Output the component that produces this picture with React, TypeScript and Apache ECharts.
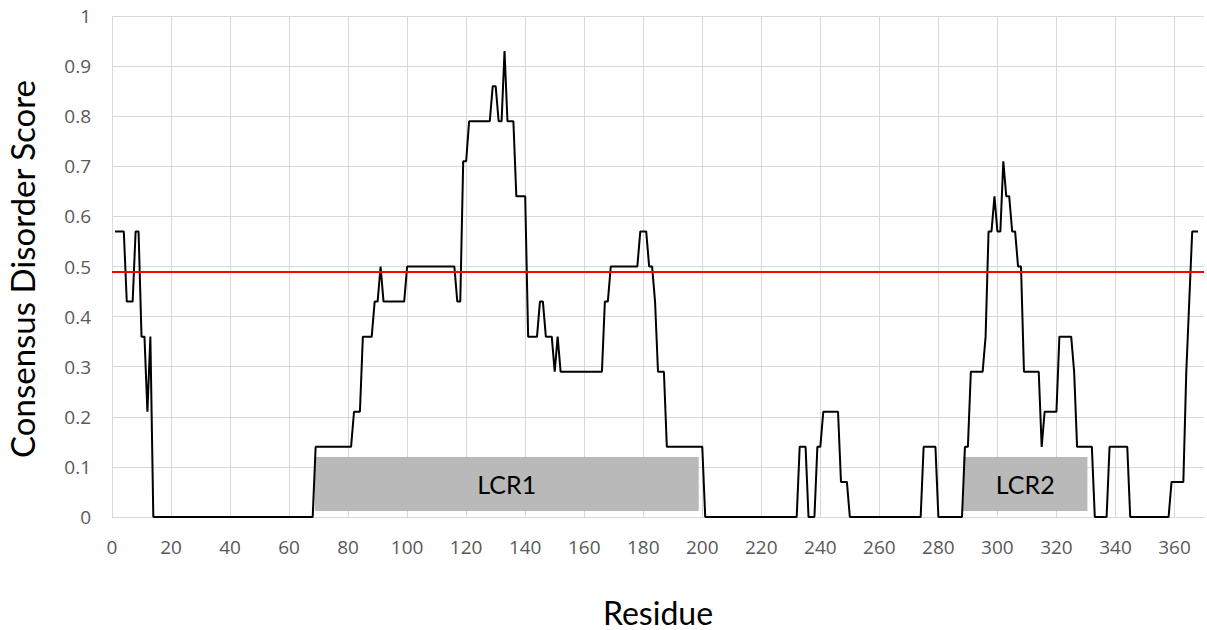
import React, { useEffect, useRef } from "react";
import * as echarts from "echarts";

// Breakpoints of the consensus disorder profile (residue, score)
const residues = [
  1, 4, 5, 7, 8, 9, 10, 11, 12, 13, 14, 68, 69, 81, 82, 84, 85, 88, 89, 90,
  91, 92, 99, 100, 116, 117, 118, 119, 120, 121, 128, 129, 130, 131, 132, 133, 134, 136, 137, 140,
  141, 144, 145, 146, 147, 149, 150, 151, 152, 166, 167, 168, 169, 178, 179, 181, 182, 183, 184, 185,
  187, 188, 200, 201, 232, 233, 235, 236, 238, 239, 240, 241, 246, 247, 249, 250, 274, 275, 279, 280,
  288, 289, 290, 291, 295, 296, 297, 298, 299, 300, 301, 302, 303, 304, 305, 306, 307, 308, 309, 314,
  315, 316, 320, 321, 325, 326, 327, 332, 333, 337, 338, 344, 345, 358, 359, 363, 364, 365, 366, 368,
];
const scores = [
  0.57, 0.57, 0.43, 0.43, 0.57, 0.57, 0.36, 0.36, 0.21, 0.36, 0, 0, 0.14, 0.14, 0.21, 0.21, 0.36, 0.36, 0.43, 0.43,
  0.5, 0.43, 0.43, 0.5, 0.5, 0.43, 0.43, 0.71, 0.71, 0.79, 0.79, 0.86, 0.86, 0.79, 0.79, 0.93, 0.79, 0.79, 0.64, 0.64,
  0.36, 0.36, 0.43, 0.43, 0.36, 0.36, 0.29, 0.36, 0.29, 0.29, 0.43, 0.43, 0.5, 0.5, 0.57, 0.57, 0.5, 0.5, 0.43, 0.29,
  0.29, 0.14, 0.14, 0, 0, 0.14, 0.14, 0, 0, 0.14, 0.14, 0.21, 0.21, 0.07, 0.07, 0, 0, 0.14, 0.14, 0,
  0, 0.14, 0.14, 0.29, 0.29, 0.36, 0.57, 0.57, 0.64, 0.57, 0.57, 0.71, 0.64, 0.64, 0.57, 0.57, 0.5, 0.5, 0.29, 0.29,
  0.14, 0.21, 0.21, 0.36, 0.36, 0.29, 0.14, 0.14, 0, 0, 0.14, 0.14, 0, 0, 0.07, 0.07, 0.29, 0.43, 0.57, 0.57,
];

const threshold = 0.495;

// Low complexity regions
const lcrNames = ["LCR1", "LCR2"];
const lcrStart = [68.7, 288.4];
const lcrEnd = [198.8, 330.5];
const lcrBottom = 0.012;
const lcrTop = 0.12;

const xMin = 0;
const xMax = 370;
const xStep = 20;
const xLastLabel = 360;
const yMin = 0;
const yMax = 1;
const yStep = 0.1;

const xTitle = "Residue";
const yTitle = "Consensus Disorder Score";

export default function App() {
  const ref = useRef<HTMLDivElement>(null);

  useEffect(() => {
    if (!ref.current) return;
    const chart = echarts.init(ref.current, null, { renderer: "svg" });
    const lineData = residues.map((r, i) => [r, scores[i]]);
    const areas = lcrNames.map((n, i) => [
      { name: n, xAxis: lcrStart[i], yAxis: lcrBottom },
      { xAxis: lcrEnd[i], yAxis: lcrTop },
    ]);
    const tickFont = { fontFamily: "Open Sans", fontSize: 19, color: "#595959" };
    chart.setOption({
      animation: false,
      backgroundColor: "#ffffff",
      grid: { left: 112, right: 0, top: 16, bottom: 113, containLabel: false },
      xAxis: {
        type: "value",
        min: xMin,
        max: xMax,
        interval: xStep,
        axisLine: { show: true, lineStyle: { color: "#d9d9d9", width: 1 } },
        axisTick: { show: false },
        axisLabel: {
          ...tickFont,
          margin: 20,
          formatter: (v: number) => (v % xStep === 0 && v <= xLastLabel ? String(v) : ""),
        },
        splitLine: { show: true, showMaxLine: false, lineStyle: { color: "#d9d9d9", width: 1 } },
      },
      yAxis: {
        type: "value",
        min: yMin,
        max: yMax,
        interval: yStep,
        axisLine: { show: false },
        axisTick: { show: false },
        axisLabel: {
          ...tickFont,
          margin: 21,
          formatter: (v: number) => String(Math.round(v * 10) / 10),
        },
        splitLine: { show: true, lineStyle: { color: "#d9d9d9", width: 1 } },
      },
      graphic: [
        {
          type: "text",
          x: 658,
          y: 612,
          style: {
            text: xTitle,
            fontFamily: "Lato",
            fontSize: 32,
            fill: "#000000",
            textAlign: "center",
            textVerticalAlign: "middle",
          },
        },
        {
          type: "text",
          x: 22,
          y: 269,
          rotation: Math.PI / 2,
          style: {
            text: yTitle,
            fontFamily: "Lato",
            fontSize: 33,
            fill: "#000000",
            textAlign: "center",
            textVerticalAlign: "middle",
          },
        },
      ],
      series: [
        {
          type: "line",
          data: lineData,
          showSymbol: false,
          symbol: "none",
          lineStyle: { color: "#000000", width: 2 },
          z: 3,
          markArea: {
            silent: true,
            itemStyle: { color: "#b9b9b9" },
            label: {
              show: true,
              position: "inside",
              fontFamily: "Lato",
              fontSize: 25,
              color: "#000000",
            },
            data: areas,
          },
          markLine: {
            silent: true,
            symbol: ["none", "none"],
            label: { show: false },
            lineStyle: { color: "#ff0000", width: 2, type: "solid" },
            data: [{ yAxis: threshold }],
          },
        },
      ],
    });
    return () => chart.dispose();
  }, []);

  return (
    <div
      ref={ref}
      style={{ position: "fixed", left: 0, top: 0, width: 1207, height: 630, background: "#fff" }}
    />
  );
}
